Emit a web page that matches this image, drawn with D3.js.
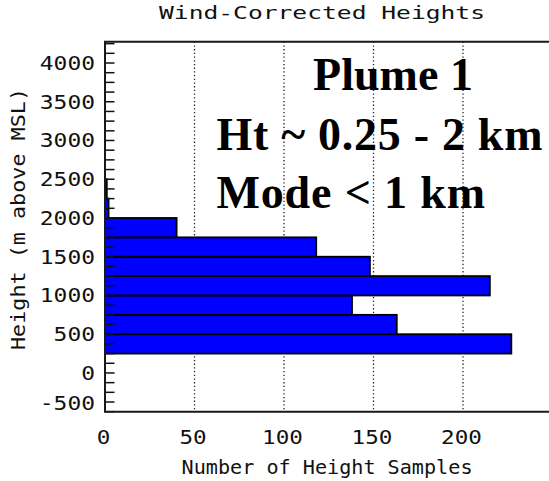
<!DOCTYPE html>
<html>
<head>
<meta charset="utf-8">
<script src="https://cdn.jsdelivr.net/npm/d3@7"></script>
<style>
  html, body { margin: 0; padding: 0; background: #fff; overflow: hidden; }
  svg { display: block; }
</style>
</head>
<body>
<svg id="chart" width="549" height="481"></svg>
<script>
// Histogram bins of wind-corrected plume heights (lower edge, m above MSL)
const binStarts = [250, 500, 750, 1000, 1250, 1500, 1750, 2000, 2250];
const binWidth = 250;
const counts = [227, 163, 138, 215, 148, 118, 40, 2, 1];

const xTicks = [0, 50, 100, 150, 200];
const yTickLabels = [-500, 0, 500, 1000, 1500, 2000, 2500, 3000, 3500, 4000];
const yMinorStep = 125;

const titleText = "Wind-Corrected Heights";
const xTitle = "Number of Height Samples";
const yTitle = "Height (m above MSL)";
const notes = ["Plume 1", "Ht ~ 0.25 - 2 km", "Mode < 1 km"];

const svg = d3.select("#chart");
svg.append("rect").attr("width", 549).attr("height", 481).attr("fill", "#fff");

const x = d3.scaleLinear().domain([0, 280]).range([105, 606.2]);
const y = d3.scaleLinear().domain([-500, 4275]).range([411.7, 41.7]);

const plotLeft = x.range()[0], plotRight = x.range()[1];
const plotTop = y.range()[1], plotBottom = y.range()[0];

const labelFont = "'DejaVu Sans Mono', monospace";

// dotted vertical grid at the major count ticks
svg.append("g").selectAll("line")
  .data(xTicks.filter(d => d > 0))
  .join("line")
  .attr("x1", d => x(d)).attr("x2", d => x(d))
  .attr("y1", plotTop).attr("y2", plotBottom)
  .attr("stroke", "#222").attr("stroke-width", 1.3)
  .attr("stroke-dasharray", "1.3 2.4");

// horizontal histogram bars
const bins = binStarts.map((s, i) => ({ lo: s, hi: s + binWidth, n: counts[i] }));
svg.append("g").selectAll("rect")
  .data(bins)
  .join("rect")
  .attr("x", x(0))
  .attr("y", d => y(d.hi))
  .attr("width", d => x(d.n) - x(0))
  .attr("height", d => y(d.lo) - y(d.hi))
  .attr("fill", "#0000ff")
  .attr("stroke", "#000")
  .attr("stroke-width", 1.8);

// inward y ticks every 125 m
const yTicks = d3.range(-500, 4275, yMinorStep);
svg.append("g").selectAll("line")
  .data(yTicks)
  .join("line")
  .attr("x1", plotLeft).attr("x2", plotLeft + 9.5)
  .attr("y1", d => y(d)).attr("y2", d => y(d))
  .attr("stroke", "#111").attr("stroke-width", 1.5);

// plot frame: left, top and bottom edges (right edge lies past the page)
const frame = d3.path();
frame.moveTo(plotRight, plotTop);
frame.lineTo(plotLeft, plotTop);
frame.lineTo(plotLeft, plotBottom);
frame.lineTo(plotRight, plotBottom);
svg.append("path")
  .attr("d", frame.toString())
  .attr("fill", "none").attr("stroke", "#1a1a1a").attr("stroke-width", 2);

// y tick labels (lowest one kept inside the frame)
svg.append("g").selectAll("text")
  .data(yTickLabels)
  .join("text")
  .attr("x", 95)
  .attr("y", d => Math.min(y(d), plotBottom - 9))
  .attr("dy", "0.36em")
  .attr("text-anchor", "end")
  .attr("font-family", labelFont)
  .attr("font-size", 19)
  .attr("textLength", d => String(d).length * 13.8)
  .attr("lengthAdjust", "spacingAndGlyphs")
  .attr("fill", "#111")
  .text(d => d);

// x tick labels
svg.append("g").selectAll("text")
  .data(xTicks)
  .join("text")
  .attr("x", d => x(d) - 1.5)
  .attr("y", 437.5)
  .attr("dy", "0.36em")
  .attr("text-anchor", "middle")
  .attr("font-family", labelFont)
  .attr("font-size", 19)
  .attr("textLength", d => String(d).length * 13.6)
  .attr("lengthAdjust", "spacingAndGlyphs")
  .attr("fill", "#111")
  .text(d => d);

// title and axis titles
svg.append("text")
  .attr("x", 322).attr("y", 18.5)
  .attr("text-anchor", "middle")
  .attr("font-family", labelFont).attr("font-size", 18)
  .attr("textLength", 326).attr("lengthAdjust", "spacingAndGlyphs")
  .attr("fill", "#111")
  .text(titleText);

svg.append("text")
  .attr("x", 327).attr("y", 473.5)
  .attr("text-anchor", "middle")
  .attr("font-family", labelFont).attr("font-size", 20)
  .attr("textLength", 291).attr("lengthAdjust", "spacingAndGlyphs")
  .attr("fill", "#111")
  .text(xTitle);

svg.append("text")
  .attr("transform", "translate(24.5,219) rotate(-90)")
  .attr("text-anchor", "middle")
  .attr("font-family", labelFont).attr("font-size", 19)
  .attr("textLength", 262).attr("lengthAdjust", "spacingAndGlyphs")
  .attr("fill", "#111")
  .text(yTitle);

// annotation block
const noteX = [313, 216.5, 216.5];
const noteY = [90, 150, 208.3];
const noteWidth = [160, 326, 268.5];
svg.append("g").selectAll("text")
  .data(notes)
  .join("text")
  .attr("x", (d, i) => noteX[i])
  .attr("y", (d, i) => noteY[i])
  .attr("font-family", "'Liberation Serif', 'Times New Roman', serif")
  .attr("font-weight", "bold")
  .attr("font-size", 46)
  .attr("textLength", (d, i) => noteWidth[i])
  .attr("lengthAdjust", "spacing")
  .attr("fill", "#000")
  .text(d => d);
</script>
</body>
</html>
